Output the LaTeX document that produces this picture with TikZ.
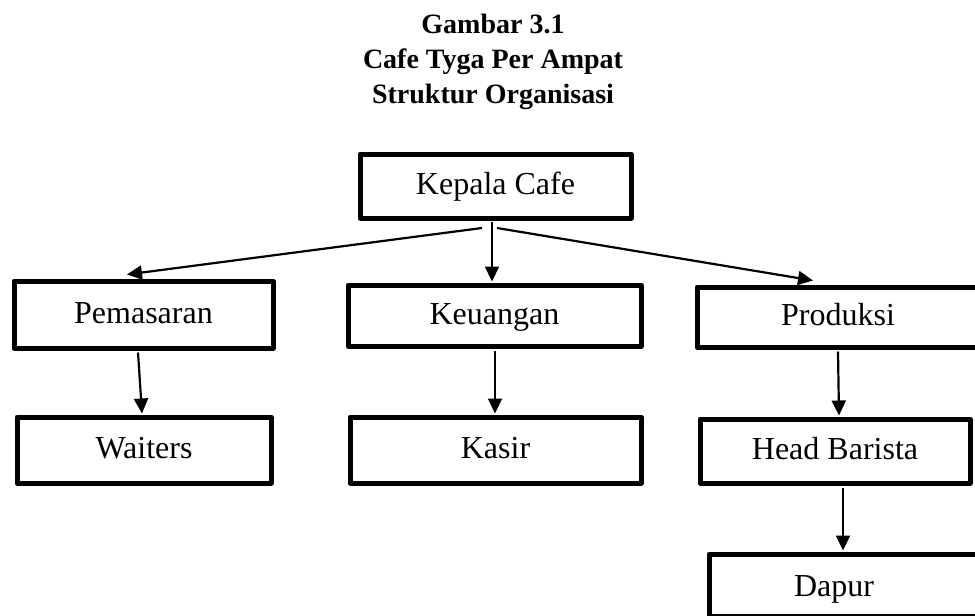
\documentclass[tikz,border=0pt]{standalone}
\usepackage{fontspec}
\setmainfont{Liberation Serif}
\usetikzlibrary{arrows.meta}
\begin{document}
\begin{tikzpicture}[x=1pt,y=-1pt,
  orgbox/.style={draw=black, line width=5pt, line join=round, rectangle, inner sep=0pt,
    font=\fontsize{32}{38}\selectfont, text height=17pt, text depth=0pt},
  lbl/.style={font=\fontsize{32}{38}\selectfont, text height=17pt, text depth=0pt, inner sep=0pt},
  ttl/.style={font=\fontsize{28}{35}\selectfont\bfseries, anchor=base, inner sep=0pt},
  arr/.style={draw=black, line width=2.2pt, -{Triangle[length=15pt,width=14pt]}}]
\useasboundingbox (0,0) rectangle (975,616);
\clip (0,0) rectangle (975,616);
\fill[white] (0,0) rectangle (975,616);
% title
\node[ttl] (t1) at (493,33) {Gambar 3.1};
\node[ttl] (t2) at (493,68) {Cafe Tyga Per Ampat};
\node[ttl] (t3) at (493,103) {Struktur Organisasi};
% boxes
\node[orgbox, minimum width=271pt, minimum height=64pt] (kepala) at (495.5,186) {Kepala Cafe};
\node[orgbox, minimum width=259pt, minimum height=67pt] (pemasaran) at (143.5,314.5) {Pemasaran};
\node[orgbox, minimum width=293pt, minimum height=61pt] (keuangan) at (494.5,315.5) {Keuangan};
\node[orgbox, minimum width=282pt, minimum height=60pt] (produksi) at (838,317) {Produksi};
\node[orgbox, minimum width=254pt, minimum height=66pt] (waiters) at (144,450) {Waiters};
\node[orgbox, minimum width=291pt, minimum height=66pt] (kasir) at (495.5,450) {Kasir};
\node[orgbox, minimum width=270pt, minimum height=64pt] (headb) at (835,451) {Head Barista};
\node[orgbox, minimum width=281pt, minimum height=62pt,
  label={[lbl, xshift=-15.5pt, yshift=-3pt]center:Dapur}] (dapur) at (849.5,585) {};
% connector start points
\coordinate (kL) at (482,228);
\coordinate (kM) at (492,222);
\coordinate (kR) at (497,228);
% connectors
\draw[arr] (kL) -- ([xshift=-16.5pt,yshift=4pt]pemasaran.north);
\draw[arr] (kM) -- ([xshift=-2.5pt,yshift=1pt]keuangan.north);
\draw[arr] (kR) -- ([xshift=-25pt,yshift=4pt]produksi.north);
\draw[arr] ([xshift=-5.5pt,yshift=-2pt]pemasaran.south) -- ([xshift=-2pt,yshift=1pt]waiters.north);
\draw[arr] ([xshift=0.5pt,yshift=-2pt]keuangan.south) -- ([xshift=-0.5pt,yshift=1pt]kasir.north);
\draw[arr] ([yshift=-2pt]produksi.south) -- ([xshift=4pt,yshift=1pt]headb.north);
\draw[arr] ([xshift=8pt,yshift=-2pt]headb.south) -- ([xshift=-6.5pt,yshift=1pt]dapur.north);
\end{tikzpicture}
\end{document}
